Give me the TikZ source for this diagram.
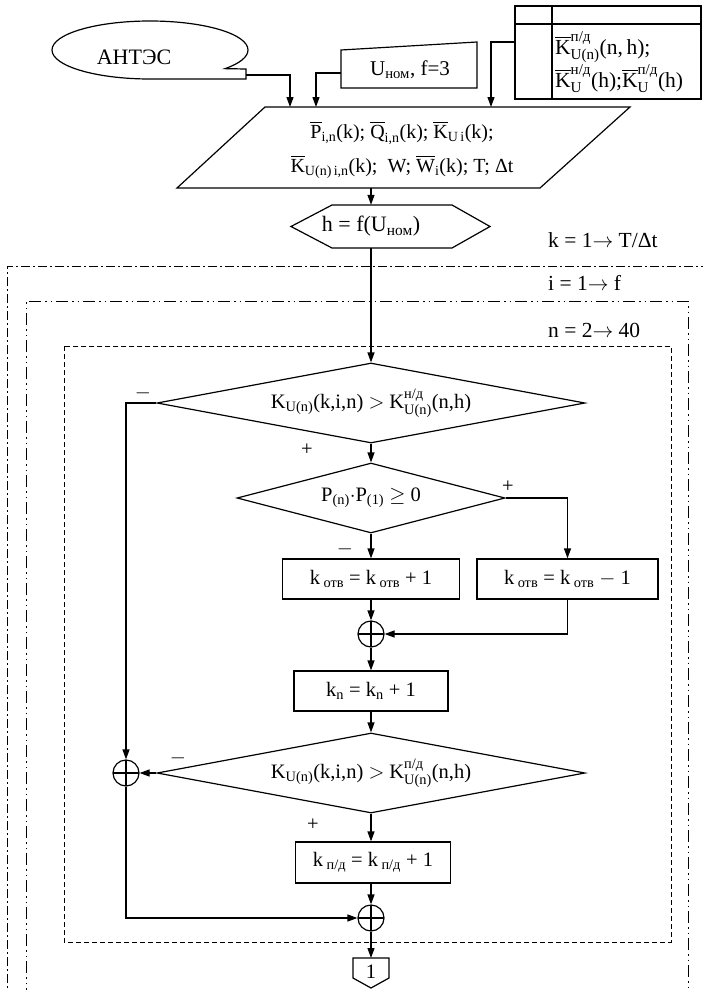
\documentclass[tikz,border=0pt]{standalone}
\usepackage{amsmath}
\usepackage{fontspec}
\setmainfont{Liberation Serif}
\usetikzlibrary{arrows.meta,shapes.geometric}
\newcommand\fsz{\fontsize{20.5}{24}\selectfont}
\newcommand\tx[1]{\text{#1}}
\tikzset{
  ln/.style={line width=1.2pt},
  arr/.style={ln,-{Triangle[length=10pt,width=7pt]}},
  txt/.style={inner sep=0pt,font=\fsz},
  box/.style={draw,ln,rectangle,inner sep=0pt,minimum height=40pt,font=\fsz},
  dia/.style={draw,ln,diamond,inner sep=0pt},
  sumc/.style={draw,ln,circle,minimum size=26pt,inner sep=0pt,
    path picture={\draw[ln] (path picture bounding box.north)--(path picture bounding box.south)
      (path picture bounding box.west)--(path picture bounding box.east);}},
  kloop/.style={line width=1pt,dash pattern=on 9pt off 3pt on 2pt off 3pt},
  iloop/.style={line width=1pt,dash pattern=on 12pt off 4pt on 1.5pt off 4pt on 1.5pt off 4pt},
  nloop/.style={line width=1pt,dash pattern=on 5pt off 3pt}
}
\begin{document}
\begin{tikzpicture}[x=1pt,y=-1pt]
\useasboundingbox (0,0) rectangle (703,990);
\clip (0,0) rectangle (703,990);
\fill[white] (0,0) rectangle (703,990);

% loop frames
\draw[kloop] (7,1000) -- (7,266) -- (720,266);
\draw[iloop] (26,1000) -- (26,301) -- (688,301) -- (688,1000);
\draw[nloop] (64,346) rectangle (671,942);
\node[txt,anchor=west,font=\fontsize{21.5}{26}\selectfont] (lk) at (548,240) {k = 1$\rightarrow$ T/Δt};
\node[txt,anchor=west,font=\fontsize{21.5}{26}\selectfont] (li) at (548,283) {i = 1$\rightarrow$ f};
\node[txt,anchor=west,font=\fontsize{21.5}{26}\selectfont] (ln) at (548,330) {n = 2$\rightarrow$ 40};

% АНТЭС
\draw[ln] (246,69) -- (246,79) -- (150,79) arc[start angle=90,end angle=400,x radius=98,y radius=29] -- cycle;
\node[txt,font=\fontsize{22}{26}\selectfont] (ant) at (134,57) {АНТЭС};
\coordinate (antout) at (246,75);

% U box
\draw[ln] (341,50) -- (477,42) -- (477,88) -- (341,88) -- cycle;
\node[txt,font=\fontsize{21}{26}\selectfont] (u) at (410,70) {U$_{\tx{ном}}$, f=3};
\coordinate (uout) at (341,73);

% table
\draw[ln] (515,6) rectangle (701,99);
\draw[ln] (552,6) -- (552,99);
\draw[ln] (515,24) -- (701,24);
\node[txt,anchor=west,align=left,font=\fontsize{21.5}{33}\selectfont] (tab) at (555,62)
  {$\overline{\tx{K}}^{\tx{п/д}}_{\tx{U(n)}}$(n,\,h);\\
   $\overline{\tx{K}}^{\tx{н/д}}_{\tx{U}}$(h);$\overline{\tx{K}}^{\tx{п/д}}_{\tx{U}}$(h)};
\coordinate (tabout) at (515,42);

% parallelogram
\draw[ln] (265,107) -- (630,107) -- (540,188) -- (177,188) -- cycle;
\node[txt,align=center,font=\fontsize{20}{34}\selectfont] (par) at (402,150)
  {$\overline{\tx{P}}_{\tx{i,n}}$(k); $\overline{\tx{Q}}_{\tx{i,n}}$(k); $\overline{\tx{K}}_{\tx{U\,i}}$(k);\\
   $\overline{\tx{K}}_{\tx{U(n)\,i,n}}$(k);\ \ W; $\overline{\tx{W}}_{\tx{i}}$(k);\ T;\ Δt};
\coordinate (in1) at (290,107);
\coordinate (in2) at (316,107);
\coordinate (in3) at (491,107);
\coordinate (parout) at (371,188);

\draw[arr] (antout) -| (in1);
\draw[arr] (uout) -| (in2);
\draw[arr] (tabout) -| (in3);

% hexagon
\node[txt,minimum width=120pt,minimum height=43pt,font=\fontsize{22}{26}\selectfont] (hex) at (371,226.5) {h = f(U$_{\tx{ном}}$)};
\draw[ln] (291,226.5) -- (332,205) -- (452,205) -- (490,226.5) -- (452,248) -- (332,248) -- cycle;
\draw[arr] (parout) -- (hex.north);

% diamonds, boxes
\node[dia,minimum width=428pt,minimum height=80pt,
  label={[txt]center:K$_{\tx{U(n)}}$(k,i,n) $>$ K$^{\tx{н/д}}_{\tx{U(n)}}$(n,h)}] (d1) at (371,403) {};
\node[dia,minimum width=268pt,minimum height=70pt,
  label={[txt]center:P$_{\tx{(n)}}\cdot$P$_{\tx{(1)}}$ $\geq$ 0}] (d2) at (371,498) {};
\node[box,minimum width=177pt] (b1) at (371,579) {k\,$_{\tx{отв}}$ = k\,$_{\tx{отв}}$ + 1};
\node[box,minimum width=181pt] (b2) at (567.5,579) {k\,$_{\tx{отв}}$ = k\,$_{\tx{отв}}$ $-$ 1};
\node[sumc] (s1) at (371,634) {};
\node[box,minimum width=154pt] (bn) at (371,691) {k$_{\tx{n}}$ = k$_{\tx{n}}$ + 1};
\node[dia,minimum width=428pt,minimum height=80pt,
  label={[txt]center:K$_{\tx{U(n)}}$(k,i,n) $>$ K$^{\tx{п/д}}_{\tx{U(n)}}$(n,h)}] (d3) at (371,773) {};
\node[sumc] (s2) at (126,773) {};
\node[box,minimum width=155pt,minimum height=41pt] (b4) at (373,862.5) {k\,$_{\tx{п/д}}$ = k\,$_{\tx{п/д}}$ + 1};
\node[sumc] (s3) at (371,918) {};

% off-page connector
\draw[ln] (353,958) -- (389,958) -- (389,978) -- (371,988) -- (353,978) -- cycle;
\node[txt] (con) at (371,972) {1};
\coordinate (conin) at (371,958);

% connectors
\draw[arr] (hex.south) -- (d1.north);
\draw[arr] (d1.south) -- (d2.north);
\draw[arr] (d2.south) -- (b1.north);
\draw[arr] (d2.east) -| (b2.north);
\draw[arr] (b1.south) -- (s1.north);
\draw[arr] (b2.south) |- (s1.east);
\draw[arr] (s1.south) -- (bn.north);
\draw[arr] (bn.south) -- (d3.north);
\draw[arr] (d1.west) -| (s2.north);
\draw[arr] (d3.west) -- (s2.east);
\draw[arr] (d3.south) -- (d3.south |- b4.north);
\draw[arr] (s3.north |- b4.south) -- (s3.north);
\draw[arr] (s2.south) |- (s3.west);
\draw[arr] (s3.south) -- (conin);

% branch labels
\node[txt] (m1) at (143,393) {$-$};
\node[txt] (p1) at (307,450) {+};
\node[txt] (p2) at (508,487) {+};
\node[txt] (m2) at (345,549) {$-$};
\node[txt] (m3) at (178,758) {$-$};
\node[txt] (p3) at (313,825) {+};
\end{tikzpicture}
\end{document}
